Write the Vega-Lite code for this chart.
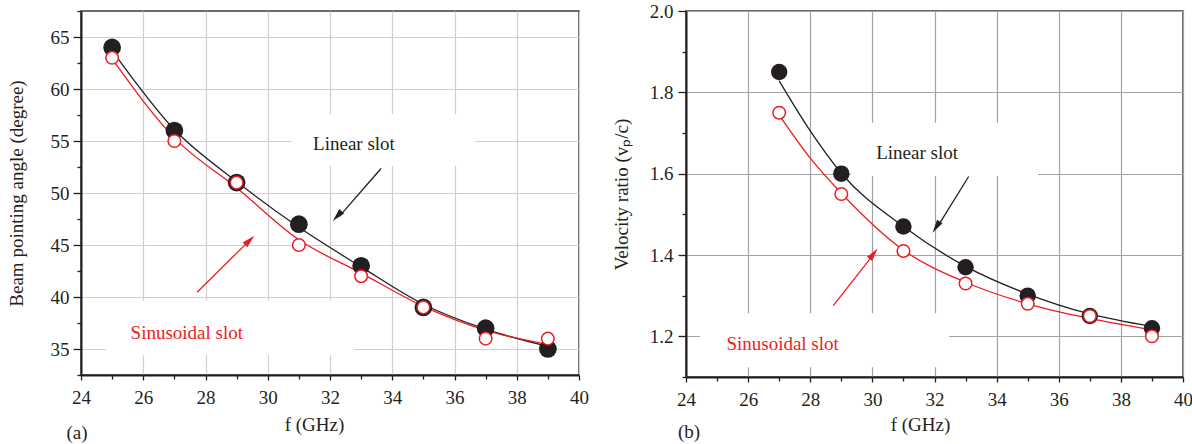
{
  "$schema": "https://vega.github.io/schema/vega-lite/v6.json",
  "background": "white",
  "padding": {"left": 6, "top": 1, "right": 0, "bottom": 0},
  "config": {
    "font": "Liberation Serif",
    "view": {"stroke": "#3a3a3a", "strokeWidth": 1.5},
    "axis": {
      "labelFont": "Liberation Serif", "titleFont": "Liberation Serif",
      "labelFontSize": 19, "titleFontSize": 19, "titleFontWeight": "normal",
      "labelColor": "#231f20", "titleColor": "#231f20",
      "domainColor": "#231f20", "domainWidth": 2,
      "tickColor": "#231f20", "tickWidth": 1.3, "gridWidth": 1.2,
      "labelFlush": false, "labelOverlap": false, "tickCount": 100
    },
    "concat": {"spacing": 21}
  },
  "datasets": {
    "ptsA": [
      {"slot": "Linear slot", "f": 25, "v": 64}, {"slot": "Linear slot", "f": 27, "v": 56},
      {"slot": "Linear slot", "f": 29, "v": 51}, {"slot": "Linear slot", "f": 31, "v": 47},
      {"slot": "Linear slot", "f": 33, "v": 43}, {"slot": "Linear slot", "f": 35, "v": 39},
      {"slot": "Linear slot", "f": 37, "v": 37}, {"slot": "Linear slot", "f": 39, "v": 35},
      {"slot": "Sinusoidal slot", "f": 25, "v": 63}, {"slot": "Sinusoidal slot", "f": 27, "v": 55},
      {"slot": "Sinusoidal slot", "f": 29, "v": 51}, {"slot": "Sinusoidal slot", "f": 31, "v": 45},
      {"slot": "Sinusoidal slot", "f": 33, "v": 42}, {"slot": "Sinusoidal slot", "f": 35, "v": 39},
      {"slot": "Sinusoidal slot", "f": 37, "v": 36}, {"slot": "Sinusoidal slot", "f": 39, "v": 36}
    ],
    "fitA": [
      {"slot": "Linear slot", "f": 25, "v": 63.7}, {"slot": "Linear slot", "f": 27, "v": 56.1},
      {"slot": "Linear slot", "f": 29, "v": 51.1}, {"slot": "Linear slot", "f": 31, "v": 46.7},
      {"slot": "Linear slot", "f": 33, "v": 42.9}, {"slot": "Linear slot", "f": 35, "v": 39.3},
      {"slot": "Linear slot", "f": 37, "v": 36.9}, {"slot": "Linear slot", "f": 39, "v": 35.25},
      {"slot": "Sinusoidal slot", "f": 25, "v": 62.9}, {"slot": "Sinusoidal slot", "f": 27, "v": 55.3},
      {"slot": "Sinusoidal slot", "f": 29, "v": 50.5}, {"slot": "Sinusoidal slot", "f": 31, "v": 45.5},
      {"slot": "Sinusoidal slot", "f": 33, "v": 42.3}, {"slot": "Sinusoidal slot", "f": 35, "v": 39.1},
      {"slot": "Sinusoidal slot", "f": 37, "v": 36.8}, {"slot": "Sinusoidal slot", "f": 39, "v": 35.45}
    ],
    "ptsB": [
      {"slot": "Linear slot", "f": 27, "v": 1.85}, {"slot": "Linear slot", "f": 29, "v": 1.60},
      {"slot": "Linear slot", "f": 31, "v": 1.47}, {"slot": "Linear slot", "f": 33, "v": 1.37},
      {"slot": "Linear slot", "f": 35, "v": 1.30}, {"slot": "Linear slot", "f": 37, "v": 1.25},
      {"slot": "Linear slot", "f": 39, "v": 1.22},
      {"slot": "Sinusoidal slot", "f": 27, "v": 1.75}, {"slot": "Sinusoidal slot", "f": 29, "v": 1.55},
      {"slot": "Sinusoidal slot", "f": 31, "v": 1.41}, {"slot": "Sinusoidal slot", "f": 33, "v": 1.33},
      {"slot": "Sinusoidal slot", "f": 35, "v": 1.28}, {"slot": "Sinusoidal slot", "f": 37, "v": 1.25},
      {"slot": "Sinusoidal slot", "f": 39, "v": 1.20}
    ],
    "fitB": [
      {"slot": "Linear slot", "f": 27, "v": 1.828}, {"slot": "Linear slot", "f": 28, "v": 1.705},
      {"slot": "Linear slot", "f": 29, "v": 1.601}, {"slot": "Linear slot", "f": 31, "v": 1.470},
      {"slot": "Linear slot", "f": 33, "v": 1.372}, {"slot": "Linear slot", "f": 35, "v": 1.304},
      {"slot": "Linear slot", "f": 37, "v": 1.255}, {"slot": "Linear slot", "f": 39, "v": 1.224},
      {"slot": "Sinusoidal slot", "f": 27, "v": 1.744}, {"slot": "Sinusoidal slot", "f": 28, "v": 1.638},
      {"slot": "Sinusoidal slot", "f": 29, "v": 1.552}, {"slot": "Sinusoidal slot", "f": 31, "v": 1.412},
      {"slot": "Sinusoidal slot", "f": 33, "v": 1.333}, {"slot": "Sinusoidal slot", "f": 35, "v": 1.280},
      {"slot": "Sinusoidal slot", "f": 37, "v": 1.244}, {"slot": "Sinusoidal slot", "f": 39, "v": 1.216}
    ]
  },
  "hconcat": [
    {
      "width": 498,
      "height": 364,
      "data": {"values": [{}]},
      "layer": [
        {
          "data": {"name": "fitA"},
          "mark": {"type": "line", "interpolate": "monotone", "strokeWidth": 1.3},
          "encoding": {
            "x": {
              "field": "f", "type": "quantitative",
              "scale": {"domain": [24, 40], "nice": false, "zero": false},
              "axis": {
                "title": "f (GHz)",
                "values": [24, 25, 26, 27, 28, 29, 30, 31, 32, 33, 34, 35, 36, 37, 38, 39, 40],
                "format": "d",
                "labelExpr": "datum.value % 2 === 0 ? datum.label : ''",
                "grid": true, "gridColor": "#cfcfcf",
                "gridOpacity": {"condition": {"test": "datum.value % 2 === 0", "value": 1}, "value": 0},
                "tickSize": {"condition": {"test": "datum.value % 2 === 0", "value": 5}, "value": 4},
                "labelPadding": 8,
                "titleX": 233, "titleY": 55, "titleBaseline": "alphabetic", "titleAnchor": "middle"
              }
            },
            "y": {
              "field": "v", "type": "quantitative",
              "scale": {"domain": [32.5, 67.5], "nice": false, "zero": false},
              "axis": {
                "title": "Beam pointing angle (degree)",
                "values": [32.5, 35, 37.5, 40, 42.5, 45, 47.5, 50, 52.5, 55, 57.5, 60, 62.5, 65, 67.5],
                "labelExpr": "round(datum.value * 2) % 10 === 0 ? format(datum.value, 'd') : ''",
                "grid": true, "gridColor": "#cfcfcf",
                "gridOpacity": {"condition": {"test": "round(datum.value * 2) % 10 === 0", "value": 1}, "value": 0},
                "tickSize": {"condition": {"test": "round(datum.value * 2) % 10 === 0", "value": 8}, "value": 4},
                "labelPadding": 4, "titlePadding": 24
              }
            },
            "color": {"field": "slot", "type": "nominal", "scale": {"domain": ["Linear slot", "Sinusoidal slot"], "range": ["#231f20", "#ed1c24"]}, "legend": null}
          }
        },
        {
          "mark": {"type": "rect", "fill": "white"},
          "encoding": {"x": {"datum": 30.78}, "x2": {"datum": 36.66}, "y": {"datum": 57.6}, "y2": {"datum": 52.6}}
        },
        {
          "mark": {"type": "rect", "fill": "white"},
          "encoding": {"x": {"datum": 24.8}, "x2": {"datum": 32.77}, "y": {"datum": 39.66}, "y2": {"datum": 34.4}}
        },
        {
          "data": {"name": "ptsA"},
          "transform": [{"filter": "datum.slot === 'Linear slot'"}],
          "mark": {"type": "circle", "size": 314, "opacity": 1, "color": "#231f20"},
          "encoding": {"x": {"field": "f", "type": "quantitative"}, "y": {"field": "v", "type": "quantitative"}}
        },
        {
          "data": {"name": "ptsA"},
          "transform": [{"filter": "datum.slot === 'Sinusoidal slot'"}],
          "mark": {"type": "circle", "size": 158, "opacity": 1, "fill": "white", "stroke": "#ed1c24", "strokeWidth": 1.5},
          "encoding": {"x": {"field": "f", "type": "quantitative"}, "y": {"field": "v", "type": "quantitative"}}
        },
        {
          "mark": {"type": "rule", "color": "#231f20", "strokeWidth": 1.3},
          "encoding": {"x": {"datum": 33.64}, "y": {"datum": 52.36}, "x2": {"datum": 32.3}, "y2": {"datum": 47.75}}
        },
        {
          "mark": {"type": "rule", "color": "#ed1c24", "strokeWidth": 1.3},
          "encoding": {"x": {"datum": 27.73}, "y": {"datum": 40.46}, "x2": {"datum": 29.4}, "y2": {"datum": 45.4}}
        },
        {
          "mark": {"type": "point", "shape": "M0,0L0.55,2.2L-0.55,2.2Z", "filled": true, "color": "#231f20", "size": 144, "opacity": 1, "angle": 222.6},
          "encoding": {"x": {"datum": 32.09}, "y": {"datum": 47.31}}
        },
        {
          "mark": {"type": "point", "shape": "M0,0L0.55,2.2L-0.55,2.2Z", "filled": true, "color": "#ed1c24", "size": 144, "opacity": 1, "angle": 45.3},
          "encoding": {"x": {"datum": 29.57}, "y": {"datum": 45.9}}
        },
        {
          "mark": {"type": "text", "text": "Linear slot", "fontSize": 19, "color": "#231f20", "align": "center", "baseline": "middle"},
          "encoding": {"x": {"datum": 32.77}, "y": {"datum": 54.7}}
        },
        {
          "mark": {"type": "text", "text": "Sinusoidal slot", "fontSize": 19, "color": "#ed1c24", "align": "center", "baseline": "middle"},
          "encoding": {"x": {"datum": 27.4}, "y": {"datum": 36.5}}
        },
        {
          "mark": {"type": "text", "text": "(a)", "fontSize": 19, "color": "#231f20", "align": "center", "baseline": "middle"},
          "encoding": {"x": {"datum": 23.87}, "y": {"datum": 26.9}}
        }
      ]
    },
    {
      "width": 497,
      "height": 366,
      "data": {"values": [{}]},
      "layer": [
        {
          "data": {"name": "fitB"},
          "mark": {"type": "line", "interpolate": "monotone", "strokeWidth": 1.3},
          "encoding": {
            "x": {
              "field": "f", "type": "quantitative",
              "scale": {"domain": [24, 40], "nice": false, "zero": false},
              "axis": {
                "title": "f (GHz)",
                "values": [24, 25, 26, 27, 28, 29, 30, 31, 32, 33, 34, 35, 36, 37, 38, 39, 40],
                "format": "d",
                "labelExpr": "datum.value % 2 === 0 ? datum.label : ''",
                "grid": true, "gridColor": "#a3a3a3",
                "gridOpacity": {"condition": {"test": "datum.value % 2 === 0", "value": 1}, "value": 0},
                "tickSize": {"condition": {"test": "datum.value % 2 === 0", "value": 5}, "value": 4},
                "labelPadding": 8,
                "titleX": 234, "titleY": 53, "titleBaseline": "alphabetic", "titleAnchor": "middle"
              }
            },
            "y": {
              "field": "v", "type": "quantitative",
              "scale": {"domain": [1.1, 2.0], "nice": false, "zero": false},
              "axis": {
                "title": "Velocity ratio (vₚ/c)",
                "values": [1.1, 1.2, 1.3, 1.4, 1.5, 1.6, 1.7, 1.8, 1.9, 2.0],
                "format": ".1f",
                "labelExpr": "round(datum.value * 10) % 2 === 0 ? datum.label : ''",
                "grid": true, "gridColor": "#a3a3a3",
                "gridOpacity": {"condition": {"test": "round(datum.value * 10) % 2 === 0", "value": 1}, "value": 0},
                "tickSize": {"condition": {"test": "round(datum.value * 10) % 2 === 0", "value": 8}, "value": 4},
                "labelPadding": 5, "titlePadding": 18
              }
            },
            "color": {"field": "slot", "type": "nominal", "scale": {"domain": ["Linear slot", "Sinusoidal slot"], "range": ["#231f20", "#ed1c24"]}, "legend": null}
          }
        },
        {
          "mark": {"type": "rect", "fill": "white"},
          "encoding": {"x": {"datum": 29.31}, "x2": {"datum": 35.33}, "y": {"datum": 1.725}, "y2": {"datum": 1.594}}
        },
        {
          "mark": {"type": "rect", "fill": "white"},
          "encoding": {"x": {"datum": 24.45}, "x2": {"datum": 32.47}, "y": {"datum": 1.257}, "y2": {"datum": 1.124}}
        },
        {
          "data": {"name": "ptsB"},
          "transform": [{"filter": "datum.slot === 'Linear slot'"}],
          "mark": {"type": "circle", "size": 270, "opacity": 1, "color": "#231f20"},
          "encoding": {"x": {"field": "f", "type": "quantitative"}, "y": {"field": "v", "type": "quantitative"}}
        },
        {
          "data": {"name": "ptsB"},
          "transform": [{"filter": "datum.slot === 'Sinusoidal slot'"}],
          "mark": {"type": "circle", "size": 158, "opacity": 1, "fill": "white", "stroke": "#ed1c24", "strokeWidth": 1.5},
          "encoding": {"x": {"field": "f", "type": "quantitative"}, "y": {"field": "v", "type": "quantitative"}}
        },
        {
          "mark": {"type": "rule", "color": "#231f20", "strokeWidth": 1.3},
          "encoding": {"x": {"datum": 33.10}, "y": {"datum": 1.593}, "x2": {"datum": 32.1}, "y2": {"datum": 1.47}}
        },
        {
          "mark": {"type": "rule", "color": "#ed1c24", "strokeWidth": 1.3},
          "encoding": {"x": {"datum": 28.74}, "y": {"datum": 1.2755}, "x2": {"datum": 30.0}, "y2": {"datum": 1.398}}
        },
        {
          "mark": {"type": "point", "shape": "M0,0L0.55,2.2L-0.55,2.2Z", "filled": true, "color": "#231f20", "size": 144, "opacity": 1, "angle": 212.9},
          "encoding": {"x": {"datum": 31.94}, "y": {"datum": 1.455}}
        },
        {
          "mark": {"type": "point", "shape": "M0,0L0.55,2.2L-0.55,2.2Z", "filled": true, "color": "#ed1c24", "size": 144, "opacity": 1, "angle": 38.1},
          "encoding": {"x": {"datum": 30.17}, "y": {"datum": 1.416}}
        },
        {
          "mark": {"type": "text", "text": "Linear slot", "fontSize": 19, "color": "#231f20", "align": "center", "baseline": "middle"},
          "encoding": {"x": {"datum": 31.44}, "y": {"datum": 1.651}}
        },
        {
          "mark": {"type": "text", "text": "Sinusoidal slot", "fontSize": 19, "color": "#ed1c24", "align": "center", "baseline": "middle"},
          "encoding": {"x": {"datum": 27.11}, "y": {"datum": 1.181}}
        },
        {
          "mark": {"type": "text", "text": "(b)", "fontSize": 19, "color": "#231f20", "align": "center", "baseline": "middle"},
          "encoding": {"x": {"datum": 24.1}, "y": {"datum": 0.965}}
        }
      ]
    }
  ]
}
